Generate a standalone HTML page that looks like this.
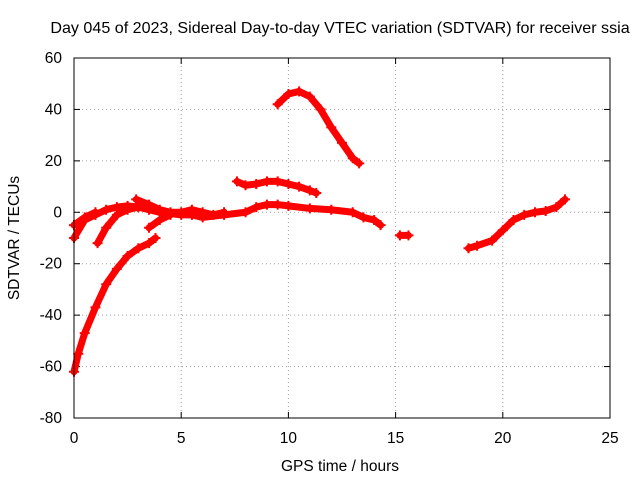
<!DOCTYPE html>
<html><head><meta charset="utf-8"><style>
body{margin:0;background:#fff}
svg{font-family:"Liberation Sans",sans-serif;font-size:15.5px}
</style></head><body>
<svg width="640" height="480">
<text x="340" y="33" text-anchor="middle" style="font-size:16.1px">Day 045 of 2023, Sidereal Day-to-day VTEC variation (SDTVAR) for receiver ssia</text>
<g id="grid"></g>
<g id="axes"></g>
<g id="series"></g>
<rect x="74" y="58" width="536" height="360" fill="none" stroke="#000"/>
<text x="340" y="471" text-anchor="middle">GPS time / hours</text>
<text transform="translate(19,238) rotate(-90)" text-anchor="middle">SDTVAR / TECUs</text>
</svg>
<script>
const xTicks=[0,5,10,15,20,25];
const yTicks=[60,40,20,0,-20,-40,-60,-80];
const trackA=[[0,-62],[0.2,-55],[0.5,-47],[1,-37],[1.5,-28],[2,-22],[2.5,-17],[3,-14],[3.5,-12],[3.8,-10]];
const trackB=[[0,-10],[0.5,-3],[1,-1],[1.5,1],[2,2],[2.5,2.5],[3,2],[3.5,1],[4,0],[5,-1],[5.5,-1],[6,-2],[7,-1],[8,0],[8.5,2],[9,3],[9.5,3],[10,2.5],[11,1.5],[12,1],[13,0],[13.5,-2],[14,-3],[14.3,-5]];
const trackC=[[0,-5],[0.5,-2],[1,0],[1.1,-12],[1.5,-6],[2,-1],[2.5,1],[3,2]];
const trackD=[[2.9,5],[3.5,3],[4,1],[4.5,0],[5,0],[5.5,1],[6,0],[6.5,-1],[7,0]];
const trackE=[[3.5,-6],[4,-3],[4.5,-1]];
const trackF=[[7.6,12],[8,10.5],[8.5,11],[9,12],[9.5,12],[10,11],[10.5,10],[11,8.5],[11.3,7.5]];
const trackG=[[9.5,42],[10,46],[10.5,47],[11,45],[11.5,40],[12,33],[12.5,27],[13,21],[13.3,19]];
const trackH=[[15.2,-9],[15.6,-9]];
const trackI=[[18.4,-14],[18.8,-13],[19.5,-11],[20,-7],[20.5,-3],[21,-1],[21.5,0],[22,0.5],[22.5,2],[22.9,5]];
const tracks=[trackA,trackB,trackC.slice(0,3),trackC.slice(3),trackD,trackE,trackF,trackG,trackH,trackI];
const NS='http://www.w3.org/2000/svg';
const X=v=>74+v*536/25, Y=v=>58+(60-v)*360/140;
function mk(t,a,p){const e=document.createElementNS(NS,t);for(const k in a)e.setAttribute(k,a[k]);p.appendChild(e);return e;}
const g=document.getElementById('grid'),ax=document.getElementById('axes'),s=document.getElementById('series');
xTicks.forEach(v=>{
 if(v>0&&v<25){const l=mk('line',{x1:X(v),x2:X(v),y1:58,y2:418,stroke:'#a0a0a0','stroke-dasharray':'1,3'},g);
 }
 const t=mk('text',{x:X(v),y:443,'text-anchor':'middle'},ax);t.textContent=v;
 
 mk('line',{x1:X(v),x2:X(v),y1:418,y2:412,stroke:'#000'},ax);mk('line',{x1:X(v),x2:X(v),y1:58,y2:64,stroke:'#000'},ax);
});
yTicks.forEach(v=>{
 if(v<60&&v>-80){const l=mk('line',{x1:74,x2:610,y1:Y(v),y2:Y(v),stroke:'#a0a0a0','stroke-dasharray':'1,3'},g);
 }
 const t=mk('text',{x:62,y:Y(v)+5,'text-anchor':'end'},ax);t.textContent=v;
 
 mk('line',{x1:74,x2:80,y1:Y(v),y2:Y(v),stroke:'#000'},ax);mk('line',{x1:610,x2:604,y1:Y(v),y2:Y(v),stroke:'#000'},ax);
});
tracks.forEach(tr=>{
 const pl=mk('polyline',{points:tr.map(p=>X(p[0])+','+Y(p[1])).join(' '),fill:'none',stroke:'#f00','stroke-width':7,'stroke-linejoin':'round','stroke-linecap':'round'},s);
 
 tr.forEach(p=>{const x=X(p[0]),y=Y(p[1]);
  mk('path',{d:`M${x-5},${y}H${x+5}M${x},${y-5}V${y+5}`,stroke:'#f00','stroke-width':2},s);});
});
</script>
</body></html>
